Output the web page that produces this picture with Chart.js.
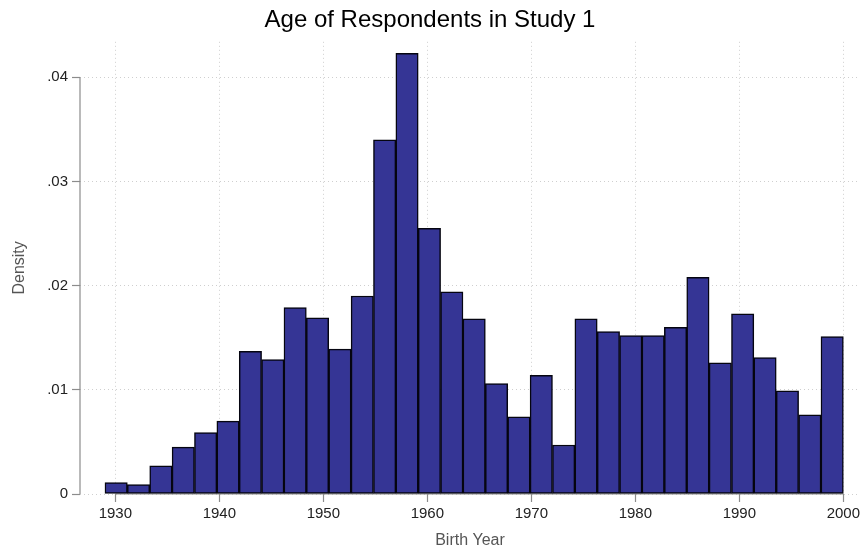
<!DOCTYPE html>
<html>
<head>
<meta charset="utf-8">
<script src="https://cdn.jsdelivr.net/npm/chart.js@4"></script>
<style>
    html, body { margin: 0; padding: 0; background: #fff; }
    #wrap { width: 865px; height: 552px; }
</style>
</head>
<body>
<div id="wrap"><canvas id="histChart" width="865" height="552"></canvas></div>
<script>
// histogram bins: 33 bins from 1929 to 2000
var binStart = 1929;
var binEnd = 2000;
var density = [
    0.0011, 0.0009, 0.0027, 0.0045, 0.0059, 0.0070, 0.0137, 0.0129, 0.0179, 0.0169, 0.0139,
    0.0190, 0.0340, 0.0423, 0.0255, 0.0194, 0.0168, 0.0106, 0.0074, 0.0114, 0.0047, 0.0168,
    0.0156, 0.0152, 0.0152, 0.0160, 0.0208, 0.0126, 0.0173, 0.0131, 0.0099, 0.0076, 0.0151
];
var xTicks = [1930, 1940, 1950, 1960, 1970, 1980, 1990, 2000];
var yTicks = [0, 0.01, 0.02, 0.03, 0.04];

var binWidth = (binEnd - binStart) / density.length;
var points = density.map((d, i) => ({ x: binStart + binWidth * (i + 0.5), y: d }));

var fontFamily = '"Liberation Sans", Arial, Helvetica, sans-serif';

// Stata style axis lines that only span the tick range
var axisLines = {
    id: 'axisLines',
    beforeDatasetsDraw(chart) {
        const ctx = chart.ctx;
        const x = chart.scales.x;
        const y = chart.scales.y;
        ctx.save();
        ctx.strokeStyle = '#8c8c8c';
        ctx.lineWidth = 1.2;
        ctx.beginPath();
        ctx.moveTo(x.left, y.getPixelForValue(yTicks[0]));
        ctx.lineTo(x.left, y.getPixelForValue(yTicks[yTicks.length - 1]));
        ctx.moveTo(x.getPixelForValue(xTicks[0]), y.bottom);
        ctx.lineTo(x.getPixelForValue(xTicks[xTicks.length - 1]), y.bottom);
        ctx.stroke();
        ctx.restore();
    }
};

function fmtDensity(v) {
    if (v === 0) return '0';
    return v.toFixed(2).replace(/^0/, '');
}

var ctx = document.getElementById('histChart').getContext('2d');
new Chart(ctx, {
    type: 'bar',
    data: {
        datasets: [{
            label: 'Density',
            data: points,
            backgroundColor: '#353595',
            borderColor: '#050510',
            borderWidth: 1.5,
            borderSkipped: false,
            barPercentage: 1,
            categoryPercentage: 1
        }]
    },
    options: {
        responsive: false,
        animation: false,
        layout: { padding: { right: 5 } },
        plugins: {
            legend: { display: false },
            tooltip: { enabled: false },
            title: {
                display: true,
                text: 'Age of Respondents in Study 1',
                color: '#000',
                font: { family: fontFamily, size: 24, weight: 'normal' },
                padding: { top: 6, bottom: 7 }
            }
        },
        scales: {
            x: {
                type: 'linear',
                offset: false,
                min: 1926.6,
                max: 2001.6,
                afterBuildTicks: function (scale) {
                    scale.ticks = xTicks.map(v => ({ value: v }));
                },
                afterFit: function (scale) { scale.height = 58; },
                grid: {
                    offset: false,
                    color: '#cfcfcf',
                    lineWidth: 1,
                    tickLength: 8,
                    tickColor: '#8c8c8c',
                    tickBorderDash: [],
                    tickWidth: 1.2
                },
                border: { display: false, dash: [1, 3] },
                ticks: {
                    color: '#222',
                    font: { family: fontFamily, size: 15 },
                    padding: 3,
                    maxRotation: 0,
                    callback: v => String(v)
                },
                title: {
                    display: true,
                    text: 'Birth Year',
                    color: '#555',
                    font: { family: fontFamily, size: 16 },
                    padding: { top: 0, bottom: 2 }
                }
            },
            y: {
                min: 0,
                max: 0.0434,
                afterBuildTicks: function (scale) {
                    scale.ticks = yTicks.map(v => ({ value: v }));
                },
                afterFit: function (scale) { scale.width = 80; },
                grid: {
                    color: '#cfcfcf',
                    lineWidth: 1,
                    tickLength: 8,
                    tickColor: '#8c8c8c',
                    tickBorderDash: [],
                    tickWidth: 1.2
                },
                border: { display: false, dash: [1, 3] },
                ticks: {
                    color: '#222',
                    font: { family: fontFamily, size: 15 },
                    padding: 4,
                    callback: v => fmtDensity(v)
                },
                title: {
                    display: true,
                    text: 'Density',
                    color: '#555',
                    font: { family: fontFamily, size: 16 },
                    padding: { top: 10, bottom: 0 }
                }
            }
        }
    },
    plugins: [axisLines]
});
</script>
</body>
</html>
